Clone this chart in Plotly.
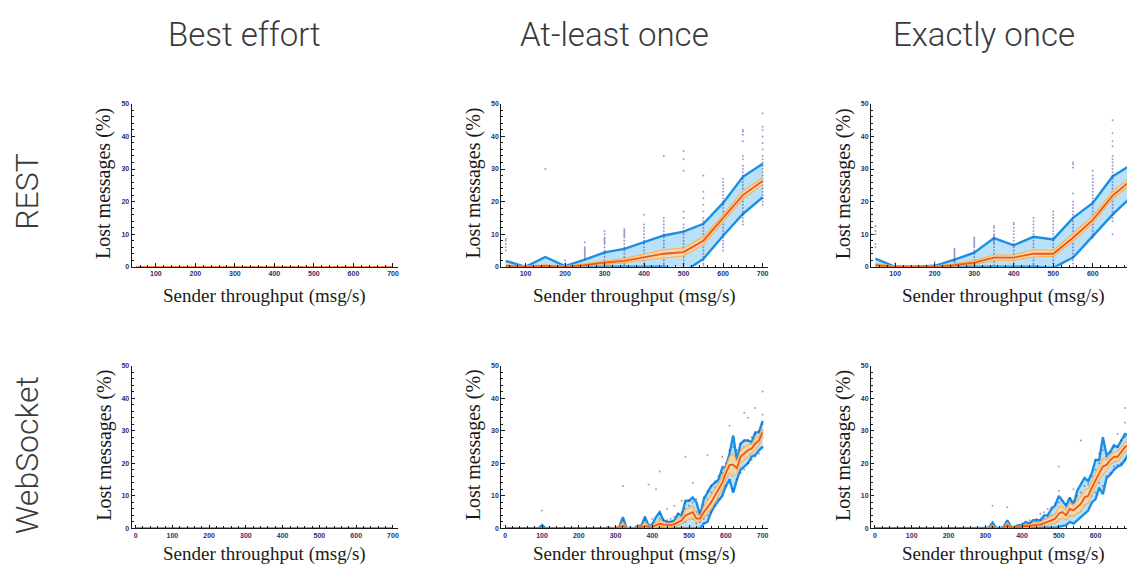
import plotly.graph_objects as go

# The page body has an 8px margin, so the figure is drawn 8px smaller and all
# reference pixel positions are shifted by OFF.
OFF = 8
W, H = 1135 - OFF, 568 - OFF

# ---------------- data ----------------
col_titles = ["Best effort", "At-least once", "Exactly once"]
row_titles = ["REST", "WebSocket"]
y_title = "Lost messages (%)"
x_title = "Sender throughput (msg/s)"

x_rest = [50, 100, 150, 200, 250, 300, 350, 400, 450, 500, 550, 600, 650, 700]
x_ws = list(range(0, 701, 10))

# REST / Best effort (everything at zero)
rest_be_med = [0, 0, 0, 0, 0, 0, 0, 0, 0, 0, 0, 0, 0, 0]

# REST / At-least once
rest_al_up = [1.8, 0, 3.0, 0.2, 2.2, 4.4, 5.5, 7.5, 9.6, 10.8, 13.2, 19.6, 27.6, 31.6]
rest_al_lo = [0, 0, 0, 0, 0, 0, 0, 0, 0, -1.6, 2.4, 9.5, 16.2, 21.3]
rest_al_med = [0.3, 0, 0.3, 0, 0.5, 1.3, 1.8, 3.0, 4.0, 4.5, 8.0, 15.0, 22.0, 26.3]
rest_al_ohi = [0.6, 0.2, 0.6, 0.2, 0.9, 1.8, 2.5, 3.9, 5.2, 5.8, 9.2, 16.0, 23.2, 27.4]
rest_al_olo = [0.1, 0, 0.1, 0, 0.2, 0.8, 1.2, 2.1, 2.8, 3.3, 6.8, 13.8, 20.8, 25.2]
rest_al_dots = {
    50: [5, 6, 7, 8, 8.5],
    100: [0, 0.5],
    150: [0, 30],
    200: [0, 1, 2],
    250: [2.5, 3, 3.5, 4, 4.5, 5, 5.5, 6, 7.5],
    300: [1.5, 2, 3, 4, 5, 6, 7, 7.5, 8, 8.5, 9, 10, 11],
    350: [0.5, 1, 2, 3, 4, 5, 6, 7, 8, 9, 9.5, 10, 10.5, 11, 11.5],
    400: [0.5, 1, 2, 3, 4, 5, 6, 7, 8, 9, 10, 11, 12, 13, 16],
    450: [0.5, 1, 2, 3, 4, 5, 6, 7, 8, 9, 10, 11, 12, 13, 14, 15, 34],
    500: [0.5, 1, 2, 3, 4, 5, 6, 7, 8, 9, 10, 11, 12, 13, 15, 17, 29.5, 33, 35.5],
    550: [0.5, 1, 2, 3, 4, 5, 6, 7, 8, 9, 10, 11, 12, 13, 14, 15, 17, 19, 21, 23, 28],
    600: [5, 6, 7, 8, 9, 10, 11, 12, 13, 14, 15, 16, 17, 18, 19, 20, 21, 22, 23, 24, 25, 26, 27],
    650: [13, 14, 15, 16, 17, 18, 19, 20, 21, 22, 23, 24, 25, 26, 27, 28, 29, 30, 31, 33, 34,
          38.5, 40.5, 41.5, 42],
    700: [19, 20, 21, 22, 23, 24, 25, 26, 27, 28, 29, 30, 31, 32, 33, 34, 36, 38, 40, 42, 43, 47],
}

# REST / Exactly once
rest_eo_up = [2.5, 0, 0, 0.3, 2.2, 4.3, 8.8, 6.6, 9.2, 8.4, 15.0, 19.6, 27.7, 31.5]
rest_eo_lo = [0, 0, 0, 0, 0, 0, 0, 0, 0, -0.3, 2.8, 9.4, 16.0, 21.8]
rest_eo_med = [0.5, 0, 0, 0, 0.5, 1.3, 2.8, 2.8, 4.0, 4.0, 8.9, 14.4, 21.8, 26.9]
rest_eo_ohi = [0.9, 0.2, 0.2, 0.2, 0.9, 1.9, 3.6, 3.6, 5.3, 5.0, 10.2, 15.6, 23.0, 28.0]
rest_eo_olo = [0.1, 0, 0, 0, 0.2, 0.8, 2.0, 2.0, 3.0, 3.2, 7.8, 13.4, 20.8, 25.6]
rest_eo_dots = {
    50: [6, 7, 10, 11, 12.5],
    100: [0, 1],
    150: [0],
    200: [0.5, 1.5],
    250: [1.5, 2, 2.5, 3, 3.5, 4, 4.5, 5, 5.5],
    300: [1, 2, 3, 4, 5, 6, 6.5, 7, 7.5, 8, 8.5, 9],
    350: [0.5, 1.5, 3, 4, 5, 6, 7, 7.5, 8, 8.5, 9, 9.5, 10, 11, 12, 12.5],
    400: [0.5, 1, 2, 3, 4, 5, 6, 7, 8, 9, 10, 11, 12, 13, 13.5],
    450: [0.5, 1, 2, 3, 4, 5, 6, 7, 8, 9, 10, 11, 12, 13, 14, 15],
    500: [0, 1, 2, 3, 4, 5, 6, 7, 8, 9, 10, 11, 12, 13, 14, 15, 16, 17],
    550: [0, 1, 2, 3, 4, 5, 6, 7, 8, 9, 10, 11, 12, 13, 14, 15, 16, 17, 18, 19, 20, 22.5,
          30.5, 31.5, 32],
    600: [9, 10, 11, 12, 13, 14, 15, 16, 17, 18, 19, 20, 21, 22, 23, 24, 25, 26, 27, 28, 29.5],
    650: [10, 14, 15, 16, 17, 18, 19, 20, 21, 22, 23, 24, 25, 26, 27, 28, 29, 30, 31, 32, 33,
          34, 37, 38.5, 41, 45],
    700: [19, 20, 21, 22, 23, 24, 25, 26, 27, 28, 29, 30, 31, 32, 33, 34, 35, 36, 40, 42],
}

# WebSocket / Best effort (everything at zero)
ws_be_med = [0] * 71

# WebSocket / At-least once  (x = 0..700 step 10)
ws_al_up = ([0] * 10 + [1.0] + [0] * 17 +
            [0.3, 0, 0, 0.5, 3.5, 0, 0, 0, 0.8, 0.8, 3.5, 0.8, 1.2, 3.5, 5.0, 2.5, 2.0, 2.0,
             2.5, 4.5, 4.0, 8.5, 8.5, 9.5, 8.0, 4.0, 9.0, 11.0, 13.0, 14.0, 15.0, 18.5, 19.0,
             23.0, 28.5, 21.0, 26.0, 27.0, 27.0, 26.5, 29.5, 29.5, 33.0])
ws_al_lo = ([0] * 54 +
            [1.5, 2.0, 5.0, 7.0, 8.5, 10.0, 13.0, 15.0, 11.0, 15.0, 18.0, 19.0, 20.0, 22.0,
             22.5, 24.0, 25.0])
ws_al_med = ([0] * 30 +
             [0.2, 0.3, 0.8, 0, 0, 0, 0.2, 0.3, 0.8, 0.4, 0.5, 1.0, 1.5, 1.2, 1.0, 1.0, 1.3,
              2.0, 2.5, 4.0, 4.5, 5.0, 3.0, 3.0, 5.0, 6.5, 8.0, 10.0, 12.0, 14.0, 17.0, 19.5,
              19.5, 18.5, 22.0, 23.0, 24.0, 24.5, 26.0, 27.0, 29.5])
ws_al_ohi = ([0] * 30 +
             [0.4, 0.6, 1.8, 0.2, 0.2, 0.2, 0.5, 0.6, 2.0, 0.7, 0.9, 2.0, 2.8, 2.0, 1.6, 1.7,
              2.0, 3.2, 3.4, 5.8, 6.2, 6.8, 4.6, 3.8, 6.8, 8.5, 10.0, 12.0, 13.8, 16.0, 18.8,
              22.0, 23.0, 20.5, 24.0, 25.0, 25.8, 25.8, 27.8, 28.3, 31.0])
ws_al_olo = ([0] * 30 +
             [0, 0, 0.2, 0, 0, 0, 0, 0, 0.2, 0, 0.1, 0.3, 0.6, 0.5, 0.4, 0.4, 0.6, 1.0, 1.4,
              2.3, 2.8, 3.2, 1.8, 2.2, 3.4, 4.6, 6.0, 8.0, 10.0, 12.0, 15.0, 17.0, 16.0, 16.8,
              20.0, 21.0, 22.2, 23.0, 24.2, 25.5, 28.0])
ws_al_dots = {
    100: [5.5], 280: [0.3], 300: [0.5], 320: [1, 2.5, 13], 340: [0.5], 360: [0.5, 1],
    380: [1, 2.5, 3.5], 390: [13.5], 400: [0.5, 1.5, 3], 410: [12], 420: [1, 3, 4.5, 17.5],
    430: [1.5, 2.5], 440: [0.5, 1.5, 2.5, 6], 450: [1, 2, 3], 460: [1, 2, 3.5, 7],
    470: [1.5, 3, 4.5], 480: [2, 3, 5, 8.5], 490: [2, 4, 6, 8, 22], 500: [3, 5, 7, 8.5],
    510: [3, 5.5, 8, 14], 520: [1.5, 3, 5, 9], 530: [2, 3.5, 5], 540: [3, 5, 7, 9.5],
    550: [4, 6.5, 9, 11.5, 22.5], 560: [5, 8, 11, 13], 570: [7, 10, 12.5, 14.5],
    580: [9, 12, 14, 16], 590: [10, 14, 17, 19, 22], 600: [13, 16, 18, 20],
    610: [15, 19, 22, 24, 31.5], 620: [12, 17, 20, 25], 630: [15, 18, 21, 24],
    640: [17, 21, 24, 26], 650: [18, 22, 25, 27, 35.5], 660: [20, 23, 25, 27, 34],
    670: [21, 24, 26, 28], 680: [22, 25, 27, 29, 37], 690: [23, 26, 28, 30],
    700: [25, 28, 30, 32, 35, 42],
}

# WebSocket / Exactly once
ws_eo_up = ([0] * 31 +
            [0.3, 1.8, 0, 0, 0.5, 2.5, 0.5, 0.5, 1.0, 1.0, 2.0, 1.5, 2.5, 2.5, 2.5, 4.0, 4.0,
             6.0, 7.0, 10.0, 8.5, 7.0, 9.5, 7.0, 11.5, 13.5, 15.5, 14.5, 17.0, 21.0, 21.0,
             28.0, 22.5, 23.5, 25.5, 25.0, 27.0, 29.0, 28.5, 29.0])
ws_eo_lo = ([0] * 49 +
            [0.2, 0.5, 0.8, 1.0, 2.0, 1.5, 2.5, 3.5, 4.5, 5.5, 8.0, 9.0, 12.5, 10.5, 15.5,
             16.5, 18.0, 19.0, 19.5, 21.0, 23.0, 23.5])
ws_eo_med = ([0] * 31 +
             [0.1, 0.5, 0, 0, 0.2, 1.0, 0.2, 0.2, 0.4, 0.5, 0.8, 0.7, 1.0, 1.2, 1.2, 1.5, 2.0,
              2.5, 3.0, 4.5, 5.0, 4.0, 6.0, 5.5, 6.5, 7.5, 9.5, 10.0, 12.5, 15.0, 17.0, 19.0,
              19.5, 21.0, 22.0, 22.0, 23.5, 25.0, 25.5, 26.0])
ws_eo_ohi = ([0] * 30 +
             [0, 0.3, 1.0, 0.1, 0.1, 0.4, 1.8, 0.4, 0.4, 0.7, 0.8, 1.3, 1.1, 1.6, 1.9, 1.9, 2.5,
              3.0, 3.8, 4.5, 6.5, 6.8, 5.6, 7.8, 7.2, 8.6, 9.8, 11.8, 12.2, 14.5, 17.2, 19.0,
              21.5, 21.2, 22.5, 23.5, 23.6, 25.0, 26.5, 27.0, 27.5])
ws_eo_olo = ([0] * 30 +
             [0, 0, 0.1, 0, 0, 0, 0.3, 0, 0, 0.1, 0.2, 0.3, 0.3, 0.5, 0.6, 0.6, 0.7, 1.0, 1.3,
              1.6, 2.6, 3.2, 2.5, 4.0, 3.8, 4.5, 5.2, 7.2, 7.8, 10.5, 12.8, 15.0, 16.5, 17.8,
              19.5, 20.5, 20.5, 22.0, 23.5, 24.0, 24.5])
ws_eo_dots = {
    320: [0.5, 7], 360: [1, 2, 6.5], 400: [0.5, 1.5], 420: [0.5, 1.5, 2.5], 440: [1, 2, 3],
    450: [1, 2.5, 4.5], 460: [1.5, 3, 5], 470: [2, 3.5, 6], 480: [2, 4, 6.5],
    490: [2.5, 4, 7.5], 500: [3, 5, 8, 11.5, 19], 510: [3.5, 6, 8.5], 520: [3, 5, 7.5],
    530: [4, 6.5, 9], 540: [4, 6, 8.5, 12], 550: [5, 7, 10], 560: [5.5, 8, 11, 27],
    570: [7, 10, 13], 580: [8, 11, 13.5], 590: [10, 13, 16], 600: [11, 15, 18, 21],
    610: [14, 17, 20, 23], 620: [13, 18, 21, 24], 630: [16, 19.5, 22], 640: [17, 21, 23.5],
    650: [19, 22, 25], 660: [19.5, 22, 25, 29], 670: [20, 23.5, 27],
    680: [21, 25, 28, 32.5, 37], 690: [23, 26, 28.5], 700: [23, 26, 29, 31],
}

# ---------------- styling / layout ----------------
BLUE = "#1a8fe3"
BLUE_FILL = "rgba(130,200,242,0.55)"
ORANGE_BAND = "#f7b24e"
ORANGE_FILL = "rgba(253,214,160,0.85)"
MEDIAN = "#f0561c"
DOT = "rgba(55,55,165,0.5)"

# reference pixel positions (before the OFF shift)
col_px = [(131.7, 398.3), (501.7, 768.3), (871.7, 1135.0)]
row_px = [(101.0, 266.0), (366.0, 531.0)]
xr_top = [[38.6, 712.6], [38.6, 712.6], [38.6, 704.3]]
xr_bot = [[-10.9, 713.6], [-10.9, 713.6], [-10.9, 704.6]]


def px(x):
    return (x - OFF) / W


def py(y):
    return 1 - (y - OFF) / H


fig = go.Figure()


def ax(r, c):
    i = r * 3 + c + 1
    return ("x" if i == 1 else f"x{i}"), ("y" if i == 1 else f"y{i}"), i


def add_band(r, c, x, lo, up, olo, ohi, med, dots):
    xa, ya, _ = ax(r, c)
    common = dict(xaxis=xa, yaxis=ya, showlegend=False, hoverinfo="skip")
    if lo is not None:
        fig.add_trace(go.Scatter(x=x, y=lo, mode="lines", line=dict(color=BLUE, width=2.4), **common))
        fig.add_trace(go.Scatter(x=x, y=up, mode="lines", line=dict(color=BLUE, width=2.4),
                                 fill="tonexty", fillcolor=BLUE_FILL, **common))
    if dots:
        dx, dy = [], []
        for k, vals in dots.items():
            for v in vals:
                dx.append(k)
                dy.append(v)
        fig.add_trace(go.Scatter(x=dx, y=dy, mode="markers",
                                 marker=dict(color=DOT, size=2.0, line=dict(width=0)), **common))
    if olo is not None:
        fig.add_trace(go.Scatter(x=x, y=olo, mode="lines", line=dict(color=ORANGE_BAND, width=1.1), **common))
        fig.add_trace(go.Scatter(x=x, y=ohi, mode="lines", line=dict(color=ORANGE_BAND, width=1.1),
                                 fill="tonexty", fillcolor=ORANGE_FILL, **common))
    fig.add_trace(go.Scatter(x=x, y=med, mode="lines", line=dict(color=MEDIAN, width=1.8), **common))


# top row
add_band(0, 0, x_rest, None, None, None, None, rest_be_med, None)
add_band(0, 1, x_rest, rest_al_lo, rest_al_up, rest_al_olo, rest_al_ohi, rest_al_med, rest_al_dots)
add_band(0, 2, x_rest, rest_eo_lo, rest_eo_up, rest_eo_olo, rest_eo_ohi, rest_eo_med, rest_eo_dots)
# bottom row
xa, ya, _ = ax(1, 0)
fig.add_trace(go.Scatter(x=x_ws, y=ws_be_med, mode="lines", line=dict(color=BLUE, width=2.4),
                         xaxis=xa, yaxis=ya, showlegend=False, hoverinfo="skip"))
add_band(1, 1, x_ws, ws_al_lo, ws_al_up, ws_al_olo, ws_al_ohi, ws_al_med, ws_al_dots)
add_band(1, 2, x_ws, ws_eo_lo, ws_eo_up, ws_eo_olo, ws_eo_ohi, ws_eo_med, ws_eo_dots)

layout = dict(
    width=W, height=H, margin=dict(l=0, r=0, t=0, b=0),
    paper_bgcolor="white", plot_bgcolor="white", showlegend=False,
)
tickfont = dict(family="Liberation Sans, Arial", size=7, color="#2e2e6e", weight="bold")
annotations = []
for r in range(2):
    for c in range(3):
        xa, ya, i = ax(r, c)
        x0, x1 = col_px[c]
        y0, y1 = row_px[r]
        xkey = "xaxis" if i == 1 else f"xaxis{i}"
        ykey = "yaxis" if i == 1 else f"yaxis{i}"
        layout[xkey] = dict(
            domain=[px(x0), min(px(x1), 1.0)], anchor=ya, range=(xr_top if r == 0 else xr_bot)[c],
            showgrid=False, zeroline=False, showline=True, linecolor="#1a1a1a", linewidth=1,
            ticks="inside", ticklen=3.5, tickwidth=1, tickcolor="#1a1a1a",
            tickvals=list(range(100 if r == 0 else 0, 701, 100)),
            tickfont=tickfont, fixedrange=True,
            minor=dict(dtick=20, tick0=0, ticks="inside", ticklen=2, tickcolor="#1a1a1a", showgrid=False),
        )
        layout[ykey] = dict(
            domain=[py(y1), py(y0)], anchor=xa, range=[0, 50],
            showgrid=False, zeroline=False, showline=True, linecolor="#1a1a1a", linewidth=1,
            ticks="inside", ticklen=3.5, tickwidth=1, tickcolor="#1a1a1a",
            tickvals=[0, 10, 20, 30, 40, 50], tickfont=tickfont, fixedrange=True,
            minor=dict(dtick=2, tick0=0, ticks="inside", ticklen=2, tickcolor="#1a1a1a", showgrid=False),
        )
        # axis titles
        annotations.append(dict(
            text=y_title, textangle=-90, xref="paper", yref="paper",
            x=px(x0 - 28), y=py((y0 + y1) / 2 - 2), xanchor="center", yanchor="middle",
            showarrow=False, font=dict(family="Liberation Serif, Times New Roman", size=20, color="#1a1a1a"),
        ))
        annotations.append(dict(
            text=x_title, xref="paper", yref="paper",
            x=px((x0 + 1138 if c == 2 else x0 + x1) / 2), y=py(296 if r == 0 else 557),
            xanchor="center", yanchor="middle", showarrow=False,
            font=dict(family="Liberation Serif, Times New Roman", size=19, color="#1a1a1a"),
        ))

for c, t in enumerate(col_titles):
    annotations.append(dict(
        text=t, xref="paper", yref="paper", x=px([245, 615, 985][c]), y=py(31),
        xanchor="center", yanchor="middle", showarrow=False,
        font=dict(family="Roboto", size=33, color="#3a3a3a", weight=300),
    ))
for r, t in enumerate(row_titles):
    annotations.append(dict(
        text=t, textangle=-90, xref="paper", yref="paper", x=px(27), y=py([189, 457][r]),
        xanchor="center", yanchor="middle", showarrow=False,
        font=dict(family="Roboto", size=32, color="#3a3a3a", weight=300),
    ))
layout["annotations"] = annotations
fig.update_layout(**layout)

fig.write_html("out.html")
